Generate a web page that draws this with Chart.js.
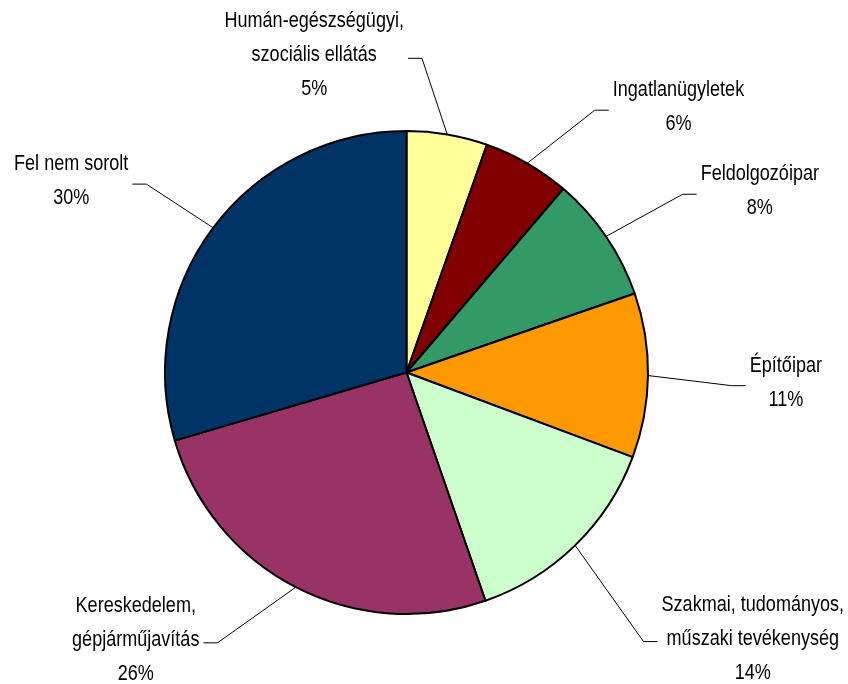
<!DOCTYPE html>
<html>
<head>
<meta charset="utf-8">
<script src="https://cdn.jsdelivr.net/npm/chart.js@4/dist/chart.umd.min.js"></script>
<style>
  html, body { margin: 0; padding: 0; background: #ffffff; }
  #wrap { width: 848px; height: 684px; position: relative; }
</style>
</head>
<body>
<div id="wrap"><canvas id="c"></canvas></div>
<script>
// ---- data ----
const categories = [
  ['Humán-egészségügyi,', 'szociális ellátás'],
  ['Ingatlanügyletek'],
  ['Feldolgozóipar'],
  ['Építőipar'],
  ['Szakmai, tudományos,', 'műszaki tevékenység'],
  ['Kereskedelem,', 'gépjárműjavítás'],
  ['Fel nem sorolt']
];
const shares = [5.4, 5.85, 8.45, 11.0, 14.0, 25.75, 29.55];
const sliceColors = ['#FFFF99', '#800000', '#339966', '#FF9900', '#CCFFCC', '#993366', '#003366'];

// leader-line layout per label: angular shift (deg) from slice middle, elbow distance (x radius), side of text
const leaderLayout = [
  { shift: -6.9, dist: 1.3025, side: 'left'  },
  { shift:  5.7, dist: 1.337,  side: 'right' },
  { shift:  1.45, dist: 1.361, side: 'right' },
  { shift:  1.6, dist: 1.348,  side: 'right' },
  { shift:  2.9, dist: 1.485,  side: 'right' },
  { shift:  7.7, dist: 1.366,  side: 'left'  },
  { shift: -0.9, dist: 1.33,   side: 'left'  }
];

const FONT_NARROW = '22px "Liberation Sans Narrow"';
const FONT_REG = '22px "Liberation Sans", Arial, sans-serif';

const outsideLabels = {
  id: 'outsideLabels',
  afterDraw(chart) {
    const ctx = chart.ctx;
    const meta = chart.getDatasetMeta(0);
    const total = shares.reduce((a, b) => a + b, 0);
    ctx.save();
    ctx.font = FONT_NARROW;
    const wN = ctx.measureText('Feldolgozóipar').width;
    ctx.font = FONT_REG;
    const wR = ctx.measureText('Feldolgozóipar').width;
    const useNarrow = wN < wR * 0.92;
    const sx = useNarrow ? 1 : 0.82;
    ctx.font = useNarrow ? FONT_NARROW : FONT_REG;
    ctx.fillStyle = '#000000';
    ctx.strokeStyle = '#000000';
    ctx.lineWidth = 1;
    ctx.textBaseline = 'middle';
    ctx.textAlign = 'center';
    const lineH = 34, stub = 14, gap = 4, vOff = -3;
    meta.data.forEach((arc, i) => {
      const p = arc.getProps(['x', 'y', 'startAngle', 'endAngle', 'outerRadius'], true);
      const mid = (p.startAngle + p.endAngle) / 2;
      const lay = leaderLayout[i];
      const R = p.outerRadius;
      const ex = p.x + R * Math.cos(mid), ey = p.y + R * Math.sin(mid);
      const a2 = mid + lay.shift * Math.PI / 180;
      const kx = p.x + lay.dist * R * Math.cos(a2), ky = p.y + lay.dist * R * Math.sin(a2);
      const dir = lay.side === 'right' ? 1 : -1;
      const sxEnd = kx + dir * stub;
      ctx.beginPath();
      ctx.moveTo(ex, ey);
      ctx.lineTo(kx, ky);
      ctx.lineTo(sxEnd, ky);
      ctx.stroke();
      const pct = Math.round(shares[i] / total * 100) + '%';
      const lines = categories[i].concat([pct]);
      const w = Math.max(...lines.map(t => ctx.measureText(t).width)) * sx;
      const cx = dir > 0 ? sxEnd + gap + w / 2 : sxEnd - gap - w / 2;
      lines.forEach((t, j) => {
        const ty = ky + vOff + (j - (lines.length - 1) / 2) * lineH;
        ctx.save();
        ctx.translate(cx, ty);
        ctx.scale(sx, 1);
        ctx.fillText(t, 0, 0);
        ctx.restore();
      });
    });
    ctx.restore();
  }
};

new Chart(document.getElementById('c'), {
  type: 'pie',
  data: {
    labels: categories,
    datasets: [{
      data: shares,
      backgroundColor: sliceColors,
      borderColor: '#000000',
      borderWidth: 2
    }]
  },
  options: {
    responsive: true,
    maintainAspectRatio: false,
    animation: false,
    layout: { padding: { top: 130, bottom: 69, left: 164, right: 199 } },
    plugins: {
      legend: { display: false },
      tooltip: { enabled: false }
    }
  },
  plugins: [outsideLabels]
});
</script>
</body>
</html>
